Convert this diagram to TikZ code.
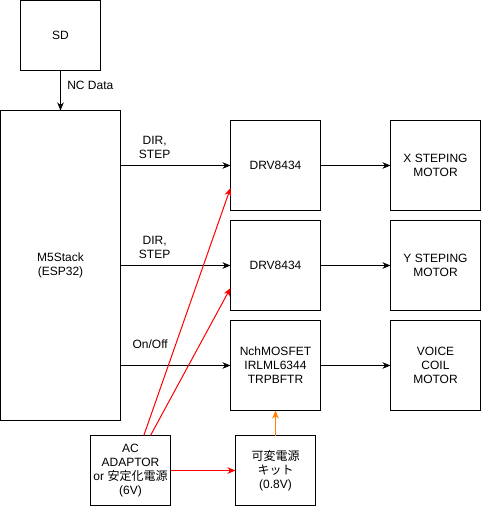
\documentclass[tikz,border=0pt]{standalone}
\usepackage{fontspec}
\setmainfont{Liberation Sans}
\newfontfamily\cjk{Noto Sans CJK JP}
\usetikzlibrary{positioning,arrows.meta}
\definecolor{supply}{HTML}{FF8000}

\begin{document}
\begin{tikzpicture}[x=1pt, y=1pt, font=\fontsize{12}{14}\selectfont]
\tikzstyle{block}=[rectangle, draw=black, line width=1pt, minimum width=90pt, minimum height=90pt, align=center, inner sep=0pt, outer sep=0pt]
\tikzstyle{small}=[block, minimum width=80pt, minimum height=70pt]
\tikzstyle{connect}=[-{Stealth[length=8pt, width=6.5pt, inset=2.5pt]}, line width=1pt]
\tikzstyle{power}=[connect, red]
  \useasboundingbox (-0.5,0.5) rectangle (480.5,-506.5);
  \node[block, minimum width=120pt, minimum height=310pt] (m5) at (60,-265) {M5Stack\\(ESP32)};
  \node[small] (sd) [above=40pt of m5] {SD};

  \node[block] (drv1) at (275,-165) {DRV8434};
  \node[block] (drv2) [below=10pt of drv1] {DRV8434};
  \node[block] (fet) [below=10pt of drv2] {NchMOSFET\\IRLML6344\\TRPBFTR};

  \node[block] (xmotor) [right=70pt of drv1] {X STEPING\\MOTOR};
  \node[block] (ymotor) [right=70pt of drv2] {Y STEPING\\MOTOR};
  \node[block] (coil) [right=70pt of fet] {VOICE\\COIL\\MOTOR};

  \node[small] (kit) [below=25pt of fet] {{\cjk 可変電源}\\{\cjk キット}\\(0.8V)};
  \node[small] (ac) [left=65pt of kit] {AC\\ADAPTOR\\or {\cjk 安定化電源}\\(6V)};

  \path (sd) edge [connect] node[right=3pt, yshift=5pt] {NC Data} (m5)
	(m5.east |- drv1.west) edge [connect] node[above=3pt, pos=0.31, align=center] {DIR,\\STEP} (drv1.west)
	(m5.east |- drv2.west) edge [connect] node[above=3pt, pos=0.31, align=center] {DIR,\\STEP} (drv2.west)
	(m5.east |- fet.west) edge [connect] node[above=13pt, pos=0.27] {On/Off} (fet.west)
	(drv1) edge [connect] (xmotor)
	(drv2) edge [connect] (ymotor)
	(fet) edge [connect] (coil);

  \path ([xshift=13.3pt]ac.north) edge [power] ([yshift=-22.5pt]drv1.west)
	([xshift=20pt]ac.north) edge [power] ([yshift=-22.5pt]drv2.west)
	(ac) edge [power] (kit)
	(kit) edge [connect, supply] (fet);
\end{tikzpicture}
\end{document}
